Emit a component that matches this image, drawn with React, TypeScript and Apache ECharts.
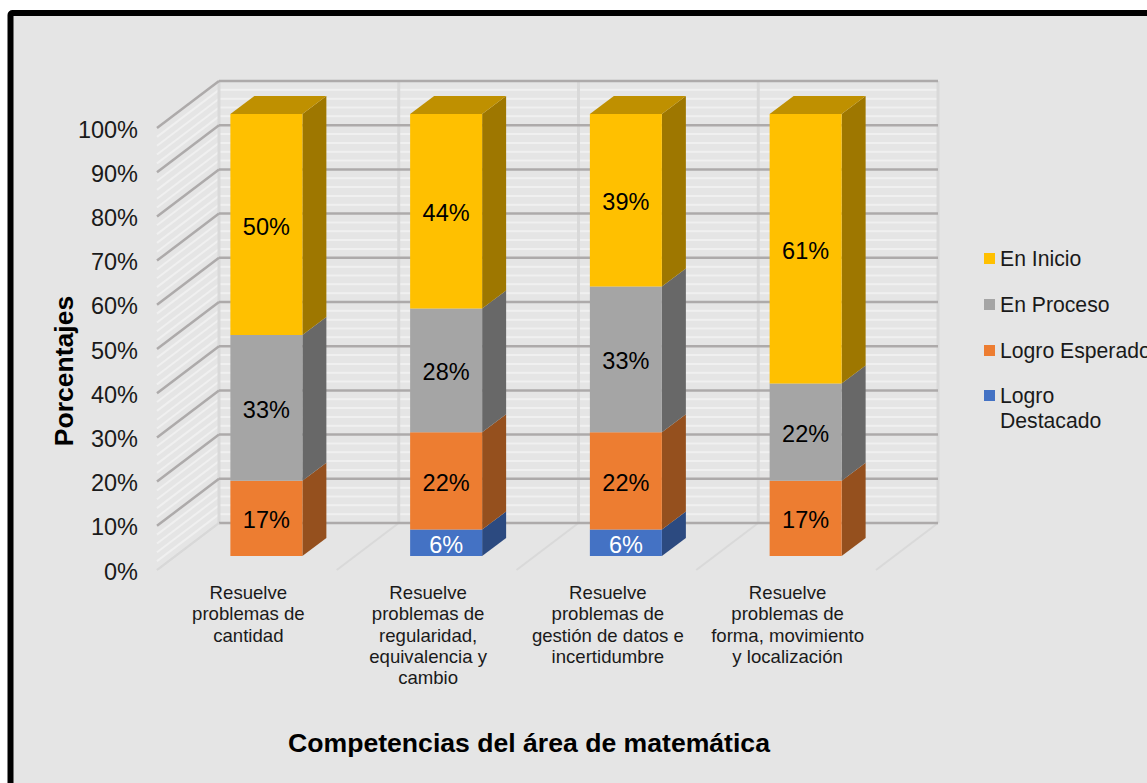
import React, { useEffect, useRef } from "react";
import * as echarts from "echarts";

const FONT = '"Liberation Sans", Arial, sans-serif';

// Competencies shown on the horizontal axis, with their drawn line breaks
const categories = [
  "Resuelve\nproblemas de\ncantidad",
  "Resuelve\nproblemas de\nregularidad,\nequivalencia y\ncambio",
  "Resuelve\nproblemas de\ngestión de datos e\nincertidumbre",
  "Resuelve\nproblemas de\nforma, movimiento\ny localización",
];

// Percentage of students per achievement level, one entry per competency
const logroDestacado = [0, 6, 6, 0];
const logroEsperado = [17, 22, 22, 17];
const enProceso = [33, 28, 33, 22];
const enInicio = [50, 44, 39, 61];

const majorTicks = [0, 10, 20, 30, 40, 50, 60, 70, 80, 90, 100];
const minorTicks = [
  2, 4, 6, 8, 12, 14, 16, 18, 22, 24, 26, 28, 32, 34, 36, 38, 42, 44, 46, 48,
  52, 54, 56, 58, 62, 64, 66, 68, 72, 74, 76, 78, 82, 84, 86, 88, 92, 94, 96, 98,
];
const wallDividers = [0, 1, 2, 3, 4];

// Oblique projection of the chart box and of the columns inside it
const WALL_DX = 62;
const WALL_DY = 47;
const BAR_DX = 19.5;
const BAR_DY = 14;
const BAR_DEPTH_X = 24;
const BAR_DEPTH_Y = 18;
const BAR_WIDTH = 72;

const levels = [
  { name: "Logro Destacado", values: logroDestacado, front: "#4472C4", side: "#2C4A80", top: "#335694", label: "#FFFFFF" },
  { name: "Logro Esperado", values: logroEsperado, front: "#ED7D31", side: "#95501E", top: "#B25E25", label: "#000000" },
  { name: "En Proceso", values: enProceso, front: "#A5A5A5", side: "#686868", top: "#7C7C7C", label: "#000000" },
  { name: "En Inicio", values: enInicio, front: "#FFC000", side: "#9E7700", top: "#BF9000", label: "#000000" },
];

function stackedRows(index: number) {
  return categories.map((_, c) => {
    let start = 0;
    for (let i = 0; i < index; i++) start += levels[i].values[c];
    return [c, start, start + levels[index].values[c]];
  });
}

function renderWalls(kind: "major" | "minor") {
  const stroke = kind === "major" ? "#ADAAAA" : "#F0F0F0";
  const lineWidth = kind === "major" ? 2.5 : 2;
  return (params: any, api: any) => {
    const v = api.value(1);
    const sys = params.coordSys;
    const y = api.coord([0, v])[1];
    const style = { stroke, lineWidth, fill: "none" };
    const left = sys.x;
    const right = sys.x + sys.width;
    return {
      type: "group",
      children: [
        {
          type: "line",
          shape: { x1: left + WALL_DX, y1: y - WALL_DY, x2: right + WALL_DX, y2: y - WALL_DY },
          style,
        },
        {
          type: "line",
          shape: { x1: left, y1: y, x2: left + WALL_DX, y2: y - WALL_DY },
          style: v === 0 ? { ...style, stroke: "#D8D8D8", lineWidth: 2 } : style,
        },
      ],
    };
  };
}

function renderDividers(params: any, api: any) {
  const i = api.value(0);
  const sys = params.coordSys;
  const x = sys.x + (i * sys.width) / categories.length;
  const yBottom = api.coord([0, 0])[1];
  const yTop = api.coord([0, 100])[1];
  const stroke = "#D9D9D9";
  return {
    type: "group",
    children: [
      {
        type: "line",
        shape: { x1: x + WALL_DX, y1: yBottom - WALL_DY, x2: x + WALL_DX, y2: yTop - WALL_DY },
        style: { stroke, lineWidth: 3, fill: "none" },
      },
      {
        type: "line",
        shape: { x1: x, y1: yBottom, x2: x + WALL_DX, y2: yBottom - WALL_DY },
        style: { stroke, lineWidth: 2, fill: "none" },
      },
    ],
  };
}

function renderColumn(level: (typeof levels)[number]) {
  return (_params: any, api: any) => {
    const c = api.value(0);
    const start = api.value(1);
    const end = api.value(2);
    if (end <= start) return { type: "group", children: [] };
    const base = api.coord([c, start]);
    const tip = api.coord([c, end]);
    const x0 = base[0] + BAR_DX - BAR_WIDTH / 2;
    const x1 = x0 + BAR_WIDTH;
    const yb = base[1] - BAR_DY;
    const yt = tip[1] - BAR_DY;
    const children: any[] = [
      {
        type: "polygon",
        shape: { points: [[x1, yb], [x1 + BAR_DEPTH_X, yb - BAR_DEPTH_Y], [x1 + BAR_DEPTH_X, yt - BAR_DEPTH_Y], [x1, yt]] },
        style: { fill: level.side },
      },
      {
        type: "polygon",
        shape: { points: [[x0, yb], [x1, yb], [x1, yt], [x0, yt]] },
        style: { fill: level.front },
      },
    ];
    if (end === 100) {
      children.push({
        type: "polygon",
        shape: { points: [[x0, yt], [x1, yt], [x1 + BAR_DEPTH_X, yt - BAR_DEPTH_Y], [x0 + BAR_DEPTH_X, yt - BAR_DEPTH_Y]] },
        style: { fill: level.top },
      });
    }
    children.push({
      type: "text",
      style: {
        text: `${end - start}%`,
        x: (x0 + x1) / 2,
        y: (yb + yt) / 2 + 2,
        align: "center",
        verticalAlign: "middle",
        fill: level.label,
        font: `23.5px ${FONT}`,
      },
    });
    return { type: "group", children };
  };
}

export default function App() {
  const ref = useRef<HTMLDivElement>(null);

  useEffect(() => {
    if (!ref.current) return;
    const chart = echarts.init(ref.current, null, { renderer: "svg" });
    chart.setOption({
      animation: false,
      backgroundColor: "#FFFFFF",
      graphic: [
        {
          type: "rect",
          z: -10,
          silent: true,
          shape: { x: 10.5, y: 13, width: 1300, height: 900, r: 2 },
          style: { fill: "#E5E5E5", stroke: "#000000", lineWidth: 6 },
        },
      ],
      grid: { left: 157, top: 128, width: 719, height: 442 },
      xAxis: {
        type: "category",
        data: categories,
        axisLine: { show: false },
        axisTick: { show: false },
        splitLine: { show: false },
        axisLabel: {
          interval: 0,
          margin: 12,
          color: "#1A1A1A",
          fontFamily: FONT,
          fontSize: 18.6,
          lineHeight: 21.3,
          padding: [0, 0, 0, 3],
        },
        name: "Competencias del área de matemática",
        nameLocation: "middle",
        nameGap: 159,
        nameMoveOverlap: false,
        nameTextStyle: {
          color: "#000000",
          fontFamily: FONT,
          fontWeight: "bold",
          fontSize: 26.6,
          padding: [0, 0, 0, 25],
        },
      },
      yAxis: {
        type: "value",
        min: 0,
        max: 100,
        interval: 10,
        axisLine: { show: false },
        axisTick: { show: false },
        splitLine: { show: false },
        axisLabel: {
          formatter: "{value}%",
          margin: 19,
          color: "#1A1A1A",
          fontFamily: FONT,
          fontSize: 23.5,
          lineHeight: 28,
          verticalAlign: "bottom",
          padding: [0, 0, -15.5, 0],
        },
        name: "Porcentajes",
        nameLocation: "middle",
        nameGap: 80,
        nameMoveOverlap: false,
        nameRotate: 90,
        nameTextStyle: {
          color: "#000000",
          fontFamily: FONT,
          fontWeight: "bold",
          fontSize: 26.5,
          padding: [0, 44, 0, 0],
        },
      },
      legend: [
        {
          orient: "vertical",
          left: 984,
          top: 246,
          padding: 0,
          itemWidth: 11,
          itemHeight: 11,
          itemGap: 21,
          icon: "rect",
          selectedMode: false,
          data: ["En Inicio", "En Proceso", "Logro Esperado"],
          textStyle: { color: "#1A1A1A", fontFamily: FONT, fontSize: 21.2, lineHeight: 25 },
        },
        {
          orient: "vertical",
          left: 984,
          top: 383,
          padding: 0,
          itemWidth: 11,
          itemHeight: 36,
          icon: "path://M0,0H11V11H0Z M0,36H0.01V36Z",
          selectedMode: false,
          data: ["Logro Destacado"],
          formatter: (name: string) => name.replace(" ", "\n"),
          textStyle: { color: "#1A1A1A", fontFamily: FONT, fontSize: 21.2, lineHeight: 25 },
        },
      ],
      series: [
        {
          type: "custom",
          name: "Líneas secundarias",
          silent: true,
          z: 1,
          encode: { x: 0, y: 1 },
          data: minorTicks.map((v) => [0, v]),
          renderItem: renderWalls("minor"),
        },
        {
          type: "custom",
          name: "Divisiones",
          silent: true,
          z: 1,
          encode: { x: 0 },
          data: wallDividers.map((i) => [i]),
          renderItem: renderDividers,
        },
        {
          type: "custom",
          name: "Líneas principales",
          silent: true,
          z: 1,
          encode: { x: 0, y: 1 },
          data: majorTicks.map((v) => [0, v]),
          renderItem: renderWalls("major"),
        },
        ...levels.map((level, index) => ({
          type: "custom",
          name: level.name,
          z: 3,
          itemStyle: { color: level.front },
          encode: { x: 0, y: [1, 2] },
          data: stackedRows(index),
          renderItem: renderColumn(level),
        })),
      ],
    });
    return () => chart.dispose();
  }, []);

  return (
    <div
      ref={ref}
      style={{ position: "fixed", left: 0, top: 0, width: 1147, height: 783 }}
    />
  );
}
